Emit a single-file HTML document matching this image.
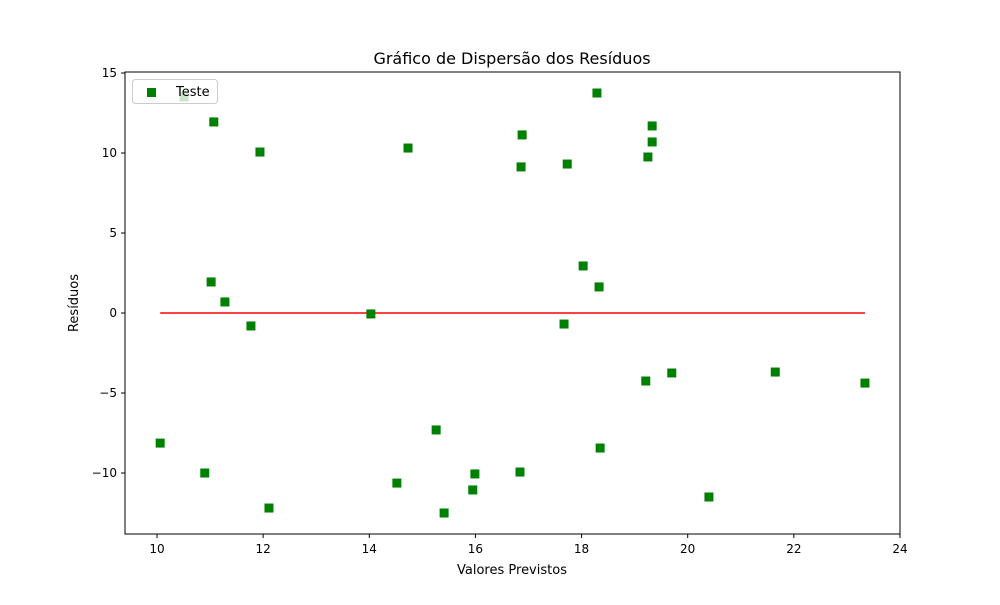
<!DOCTYPE html>
<html><head><meta charset="utf-8"><style>
body{margin:0;background:#fff;}
svg text{font-family:"DejaVu Sans","Liberation Sans",sans-serif;fill:#000;}
</style></head><body>
<svg id="c" width="1000" height="600">
<rect width="1000" height="600" fill="#fff"/>
<text x="512" y="64" font-size="16" text-anchor="middle">Gráfico de Dispersão dos Resíduos</text>
<text x="512" y="574" font-size="13" text-anchor="middle">Valores Previstos</text>
<text x="78" y="303" font-size="13" text-anchor="middle" transform="rotate(-90 78 303)">Resíduos</text>
<g id="ticks"></g>
<g id="marks"></g>
<rect x="125" y="72" width="775" height="462" fill="none" stroke="#000" stroke-width="1"/>
<g>
<rect x="132.5" y="79.5" width="85" height="24" rx="3" fill="#fff" fill-opacity="0.8" stroke="#ccc"/>
<rect x="147" y="88" width="9" height="9" fill="#008000"/>
<text x="176" y="96" font-size="13">Teste</text>
</g>
</svg>
<script>
const predicted=[10.51,11.07,11.94,14.73,16.88,16.86,17.73,18.29,19.33,19.33,19.25,11.02,11.28,11.77,14.03,18.03,18.33,17.67,19.21,19.70,21.65,23.34,10.06,10.90,12.11,15.26,14.52,15.41,15.99,15.95,16.84,18.35,20.40];
const residuals=[13.5,11.94,10.06,10.31,11.13,9.13,9.31,13.75,11.69,10.69,9.75,1.94,0.69,-0.81,-0.06,2.94,1.63,-0.69,-4.25,-3.75,-3.69,-4.38,-8.13,-10,-12.19,-7.31,-10.63,-12.5,-10.06,-11.06,-9.94,-8.44,-11.5];
const xTicks=[10,12,14,16,18,20,22,24];
const yTicks=[15,10,5,0,-5,-10];
const yTickLabels=["15","10","5","0","\u22125","\u221210"];
const ns="http://www.w3.org/2000/svg";
const X=v=>157+(v-10)*53.07;
const Y=v=>313-v*16;
const tg=document.getElementById('ticks'),mg=document.getElementById('marks');
function mk(t,a,p){const e=document.createElementNS(ns,t);for(const k in a)e.setAttribute(k,a[k]);p.appendChild(e);return e;}
xTicks.forEach(v=>{
 const l=mk('line',{x1:X(v),x2:X(v),y1:534,y2:538,stroke:'#000'},tg);
 
 
 const t=mk('text',{x:X(v),y:553,'font-size':12,'text-anchor':'middle'},tg);t.textContent=v;
 
 
});
yTicks.forEach((v,i)=>{
 const l=mk('line',{x1:121,x2:125,y1:Y(v),y2:Y(v),stroke:'#000'},tg);
 
 
 const t=mk('text',{x:117,y:Y(v)+4,'font-size':12,'text-anchor':'end'},tg);t.textContent=yTickLabels[i];
 
 
});
const mn=Math.min(...predicted),mx=Math.max(...predicted);
const zl=mk('line',{x1:X(mn),x2:X(mx),y1:Y(0),y2:Y(0),stroke:'#ff0000','stroke-width':1.5},mg);


predicted.forEach((p,i)=>{
 const r=mk('rect',{x:X(p)-4.5,y:Y(residuals[i])-4.5,width:9,height:9,fill:'#008000'},mg);
 
 
});
</script>
</body></html>
